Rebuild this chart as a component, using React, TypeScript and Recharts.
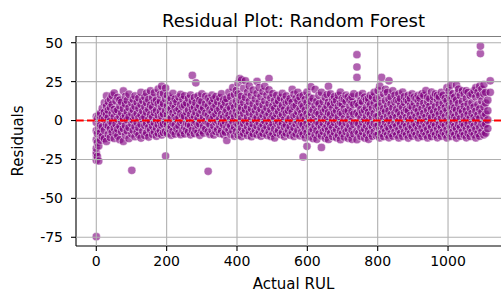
import React from "react";
import { ScatterChart, Scatter, XAxis, YAxis, Label } from "recharts";

// Each entry: [Actual RUL, residuals observed at that RUL]
const residualsRul0to199: [number, number[]][] = [
  [0, [-74.6, -25.5, -22.4, -20.6, -17.8, -12.3, -6.5, -1.2, 2.6]],
  [3, [-23.1, -14.2, -8.4, 1.3]],
  [7, [-26.0, -16.3, -5.1, 3.4]],
  [12, [-12.6, -7.8, -2.9, 4.7]],
  [17, [-10.3, -4.1, 1.6, 7.9]],
  [23, [-11.7, -6.2, 0.8, 5.3, 11.4]],
  [29, [-13.4, -2.7, 3.9, 9.2, 15.8]],
  [34, [-8.8, -3.5, 1.9, 6.6, 12.1]],
  [40, [-10.9, -5.4, -0.3, 8.4, 13.7]],
  [45, [-7.6, -1.7, 4.5, 10.2, 16.1]],
  [51, [-11.5, -4.9, 2.3, 7.1, 17.7]],
  [56, [-8.2, -2.4, 5.8, 12.6]],
  [61, [-9.9, -5.6, 0.9, 6.8, 14.9]],
  [67, [-12.3, -3.7, 2.7, 9.5, 13.2]],
  [72, [-7.1, -0.6, 4.9, 11.8]],
  [77, [-13.4, -5.2, 1.4, 7.7, 19.0]],
  [83, [-9.4, -3.3, 3.1, 10.6, 15.5]],
  [88, [-6.7, 0.4, 5.6, 12.9]],
  [93, [-11.6, -4.5, 2.2, 8.3, 16.9]],
  [101, [-32.0, -8.7, -2.1, 4.6, 11.2]],
  [105, [-6.3, 0.2, 6.9, 13.6]],
  [110, [-10.4, -3.9, 2.8, 9.1, 15.8]],
  [116, [-7.5, -1.3, 4.4, 11.7]],
  [121, [-9.2, -4.6, 1.7, 7.9, 14.4]],
  [127, [-11.3, -2.5, 3.6, 10.3, 18.1]],
  [132, [-6.8, 0.9, 6.1, 12.8]],
  [138, [-9.7, -3.2, 2.4, 8.8, 15.2]],
  [143, [-7.9, -1.9, 5.3, 11.4, 17.6]],
  [149, [-10.6, -4.4, 0.6, 7.2, 13.5]],
  [154, [-6.1, -0.8, 3.7, 9.9, 19.1]],
  [160, [-8.9, -3.6, 2.1, 8.5, 14.7]],
  [165, [-7.3, -1.4, 5.1, 11.9, 17.8]],
  [171, [-10.1, -4.8, 0.4, 6.4, 13.1]],
  [176, [-8.2, -2.6, 3.4, 10.7, 20.2]],
  [182, [-6.4, -0.5, 5.9, 12.4, 16.6]],
  [186, [-9.3, -3.1, 2.9, 8.6, 22.1]],
  [191, [-7.7, -2.2, 4.2, 10.8, 17.3]],
  [197, [-22.8, -6.9, -0.7, 6.3, 13.9, 20.8]],
];

const residualsRul200to399: [number, number[]][] = [
  [202, [-8.3, -2.8, 3.7, 9.4, 16.2]],
  [207, [-5.6, 0.5, 6.8, 12.7]],
  [213, [-9.4, -3.9, 1.8, 7.6, 14.3]],
  [218, [-6.9, -1.6, 4.9, 10.6, 17.4]],
  [224, [-8.7, -2.9, 2.5, 8.3, 13.8]],
  [229, [-5.3, 0.8, 6.1, 11.9]],
  [235, [-7.8, -3.4, 1.9, 7.4, 15.1]],
  [240, [-9.1, -1.2, 4.6, 10.3, 16.8]],
  [246, [-6.4, -0.3, 3.2, 8.9, 13.6]],
  [251, [-8.6, -4.1, 2.7, 9.8, 15.9]],
  [257, [-5.9, -1.8, 5.4, 11.2]],
  [262, [-7.3, -2.4, 1.1, 6.7, 14.2]],
  [268, [-9.2, -3.3, 3.8, 10.1, 16.4]],
  [273, [-6.2, 0.6, 7.3, 12.5, 29.0]],
  [279, [-8.4, -1.9, 2.9, 8.6, 14.8]],
  [283, [-5.7, -0.9, 5.2, 11.4, 24.2]],
  [289, [-7.6, -3.1, 1.6, 7.8, 15.7]],
  [294, [-9.5, -2.2, 4.3, 9.6, 13.1]],
  [300, [-6.6, 0.1, 6.4, 12.2, 17.1]],
  [305, [-8.1, -3.7, 2.3, 8.2]],
  [311, [-5.4, -0.4, 4.8, 10.9, 15.6]],
  [318, [-32.6, -7.2, -1.5, 3.4, 9.3, 14.4]],
  [323, [-8.9, -2.6, 1.4, 6.9, 12.8]],
  [329, [-6.3, 0.7, 5.7, 11.3, 16.3]],
  [334, [-9.3, -3.6, 2.6, 8.1, 13.9]],
  [340, [-7.1, -1.1, 4.1, 9.7, 15.4]],
  [345, [-5.8, -0.2, 6.2, 12.1]],
  [351, [-8.4, -3.2, 1.2, 7.5, 14.6]],
  [356, [-6.7, -1.5, 3.9, 10.4, 17.2]],
  [362, [-9.1, -2.7, 2.1, 8.7, 13.3]],
  [367, [-7.5, -0.8, 5.1, 11.6]],
  [371, [-12.8, -4.4, 1.8, 6.6, 14.1]],
  [377, [-6.1, -2.1, 3.3, 9.2, 18.1]],
  [382, [-8.8, -3.4, 0.9, 7.9, 15.3]],
  [388, [-6.5, -0.6, 4.7, 11.1, 21.2]],
  [393, [-10.1, -4.2, 2.4, 8.5, 16.7]],
  [398, [-7.2, -1.3, 5.5, 12.4, 19.3]],
];

const residualsRul400to599: [number, number[]][] = [
  [403, [-9.4, -2.6, 3.4, 9.8, 17.1, 24.1]],
  [408, [-7.1, -0.8, 6.3, 13.2, 27.0]],
  [413, [-10.3, -4.7, 1.5, 8.4, 15.6, 26.1]],
  [419, [-8.2, -1.9, 4.6, 11.5, 20.7]],
  [424, [-6.4, -0.2, 7.1, 14.8, 25.5]],
  [430, [-9.6, -3.8, 2.3, 9.1, 18.2]],
  [435, [-7.3, -1.6, 5.2, 12.3, 22.2]],
  [441, [-10.4, -4.9, 0.7, 7.6, 16.1]],
  [446, [-8.5, -2.3, 3.8, 10.7, 19.6]],
  [452, [-6.2, 0.4, 6.6, 13.9]],
  [457, [-9.2, -3.5, 2.1, 8.8, 17.4, 25.1]],
  [463, [-7.4, -1.4, 4.9, 11.6, 21.2]],
  [468, [-10.1, -4.6, 1.2, 7.3, 15.4]],
  [474, [-8.3, -2.7, 3.6, 9.9, 18.6]],
  [479, [-6.1, -0.3, 5.8, 12.7, 22.0]],
  [485, [-9.5, -3.9, 2.6, 8.2, 16.3]],
  [491, [-7.3, -1.2, 4.4, 10.9, 19.7, 27.0]],
  [496, [-10.2, -4.3, 0.9, 6.8, 14.6]],
  [502, [-8.4, -2.1, 3.1, 9.4, 17.3]],
  [507, [-11.2, -5.6, 1.3, 7.7, 12.9]],
  [513, [-7.9, -1.8, 4.2, 10.8, 16.2]],
  [518, [-6.3, -0.7, 5.9, 12.6]],
  [524, [-9.1, -3.4, 2.2, 8.1, 14.7]],
  [529, [-7.6, -1.5, 3.9, 9.7, 17.4]],
  [535, [-10.3, -4.2, 0.6, 6.9, 13.4]],
  [540, [-8.1, -2.8, 4.7, 11.3, 15.8]],
  [546, [-6.2, 0.3, 6.4, 12.2]],
  [551, [-9.4, -3.9, 1.4, 7.8, 14.1]],
  [557, [-7.3, -1.1, 5.3, 11.7, 20.0]],
  [562, [-10.2, -4.6, 2.7, 8.9, 16.9]],
  [568, [-8.6, -2.3, 3.5, 9.6, 14.3]],
  [573, [-6.4, -0.4, 5.6, 12.8, 18.1]],
  [579, [-9.8, -3.1, 1.9, 7.4, 15.2]],
  [584, [-7.2, -1.7, 4.8, 10.6]],
  [588, [-23.4, -8.9, -2.9, 2.6, 9.2, 16.1]],
  [594, [-11.1, -5.2, 0.8, 6.7, 13.5]],
];

const residualsRul600to799: [number, number[]][] = [
  [599, [-16.6, -7.8, -1.9, 4.3, 11.6, 18.2]],
  [605, [-10.4, -4.1, 2.2, 8.8, 15.1]],
  [610, [-7.3, -1.2, 5.1, 12.4, 21.7]],
  [616, [-11.6, -5.7, 0.4, 6.8, 14.2]],
  [622, [-9.2, -3.3, 3.4, 9.7, 20.0]],
  [627, [-12.1, -6.4, -0.6, 5.6, 12.3]],
  [633, [-8.5, -2.4, 4.2, 10.8, 16.2]],
  [640, [-17.3, -9.9, -4.3, 1.9, 8.2, 18.1]],
  [645, [-7.1, -1.6, 5.4, 12.1]],
  [651, [-11.4, -5.2, 0.7, 7.3, 14.9]],
  [656, [-9.1, -3.6, 2.8, 9.4, 16.7]],
  [660, [-12.2, -6.1, -0.9, 5.1, 11.8, 22.0]],
  [666, [-8.2, -2.7, 3.9, 10.2, 17.1]],
  [672, [-10.3, -4.4, 1.6, 7.9, 13.6]],
  [677, [-7.6, -1.3, 4.7, 11.4, 15.3]],
  [683, [-11.1, -5.8, 0.2, 6.4, 12.9]],
  [688, [-9.4, -3.2, 2.6, 9.1, 16.1]],
  [694, [-12.3, -6.6, -1.1, 5.3, 11.1, 18.2]],
  [699, [-8.4, -2.1, 4.3, 10.6, 14.1]],
  [705, [-10.6, -4.8, 1.3, 7.6, 13.7]],
  [710, [-7.2, -1.4, 5.7, 12.2, 16.3]],
  [716, [-11.4, -5.5, 0.5, 6.2, 15.1]],
  [721, [-9.1, -3.1, 3.2, 9.5, 13.3]],
  [727, [-12.1, -6.2, -0.4, 5.9, 11.7, 15.2]],
  [732, [-8.6, -2.5, 4.1, 10.3, 17.2]],
  [741, [-12.3, -6.8, -1.2, 4.9, 11.2, 27.7, 34.4, 42.3]],
  [746, [-8.1, -2.2, 3.6, 9.8, 16.1]],
  [752, [-10.2, -4.6, 1.4, 7.1, 12.8]],
  [757, [-7.4, -1.1, 5.2, 11.9, 17.3]],
  [763, [-11.3, -5.4, 0.3, 6.6, 15.1]],
  [768, [-9.2, -3.4, 2.9, 8.3, 13.4]],
  [774, [-12.1, -6.3, -0.7, 5.4, 12.1, 14.2]],
  [779, [-8.3, -2.6, 3.8, 10.1, 16.2]],
  [785, [-10.1, -4.2, 1.7, 7.8, 15.1]],
  [790, [-7.2, -1.8, 4.6, 11.3, 18.1]],
  [796, [-9.6, -3.7, 2.4, 8.6, 13.9]],
];

const residualsRul800to999: [number, number[]][] = [
  [801, [-9.1, -3.3, 2.8, 9.2, 19.2]],
  [806, [-11.2, -5.4, 0.6, 6.9, 14.8, 22.1]],
  [811, [-8.2, -2.1, 4.4, 11.1, 27.7]],
  [817, [-10.3, -4.7, 1.3, 7.6, 17.2]],
  [822, [-7.1, -1.2, 5.6, 12.7, 20.1]],
  [828, [-9.2, -3.8, 2.6, 9.4, 18.1]],
  [832, [-11.1, -5.1, 0.2, 6.3, 13.6, 25.5]],
  [838, [-8.3, -2.4, 3.9, 10.7, 15.2]],
  [843, [-10.1, -4.3, 1.8, 8.1, 19.1]],
  [849, [-7.2, -1.6, 4.9, 11.8, 16.3]],
  [854, [-9.3, -3.5, 2.2, 7.4, 13.1]],
  [860, [-11.2, -5.9, -0.4, 5.8, 12.6, 17.1]],
  [865, [-8.1, -2.3, 3.7, 9.9, 14.1]],
  [871, [-10.2, -4.1, 1.6, 8.4, 18.2]],
  [876, [-7.3, -1.4, 5.3, 11.6, 15.3]],
  [882, [-9.1, -3.7, 2.1, 7.2, 13.2]],
  [887, [-11.3, -5.6, 0.4, 6.3, 12.4, 16.2]],
  [893, [-8.2, -2.8, 3.3, 9.6, 14.2]],
  [898, [-10.1, -4.4, 1.1, 8.7, 17.1]],
  [904, [-7.1, -1.5, 5.2, 11.4, 15.1]],
  [909, [-9.2, -3.1, 2.6, 7.9, 14.1]],
  [915, [-11.1, -5.3, 0.3, 6.1, 12.8, 16.1]],
  [920, [-8.3, -2.2, 3.8, 10.2, 14.3]],
  [926, [-10.2, -4.9, 1.4, 7.6, 17.2]],
  [931, [-7.2, -1.1, 4.7, 11.3, 16.1]],
  [937, [-9.3, -3.6, 2.3, 8.6, 19.2]],
  [942, [-11.2, -5.7, -0.2, 6.5, 12.1, 15.1]],
  [948, [-8.1, -2.4, 3.5, 9.3, 14.1]],
  [953, [-10.3, -4.2, 1.9, 7.1, 18.3]],
  [959, [-7.1, -1.3, 5.4, 11.8, 15.2]],
  [964, [-9.2, -3.3, 2.7, 8.9, 17.1]],
  [970, [-11.1, -5.5, 0.5, 6.2, 13.4, 16.2]],
  [975, [-8.2, -2.6, 4.1, 10.4, 15.1]],
  [981, [-10.1, -4.4, 1.2, 7.7, 18.1]],
  [986, [-7.3, -1.7, 4.8, 11.1, 16.3]],
  [992, [-9.1, -3.2, 2.5, 8.3, 14.2]],
  [997, [-11.2, -5.8, 0.1, 6.6, 12.7, 21.1]],
];

const residualsRul1000up: [number, number[]][] = [
  [1003, [-8.1, -2.4, 3.6, 9.7, 16.2, 19.1]],
  [1008, [-10.2, -4.3, 1.8, 7.9, 14.1, 22.8]],
  [1014, [-7.3, -1.2, 5.1, 11.6, 17.2]],
  [1019, [-9.1, -3.7, 2.4, 8.2, 15.1]],
  [1024, [-11.3, -5.1, 0.7, 6.8, 13.2, 22.8]],
  [1030, [-8.2, -2.6, 4.3, 10.9, 18.2, 20.2]],
  [1035, [-10.1, -4.4, 1.2, 7.3, 16.1]],
  [1041, [-7.2, -1.5, 5.6, 12.2, 19.1]],
  [1046, [-9.3, -3.1, 2.8, 9.1, 17.1]],
  [1052, [-11.1, -5.4, 0.3, 6.4, 14.1, 19.1]],
  [1057, [-8.1, -2.3, 3.9, 10.6, 18.1]],
  [1063, [-10.2, -4.8, 1.5, 7.8, 16.2]],
  [1068, [-7.3, -1.1, 4.6, 11.4, 17.1]],
  [1074, [-9.1, -3.4, 2.2, 8.7, 19.2]],
  [1079, [-11.2, -5.6, 0.8, 6.1, 15.1, 21.1]],
  [1085, [-8.3, -2.1, 3.7, 10.3, 18.2]],
  [1090, [-10.1, -4.5, 1.3, 7.5, 16.1, 22.1]],
  [1092, [43.0, 47.8]],
  [1096, [-7.2, -1.9, 5.2, 12.6, 20.2]],
  [1102, [-9.2, -3.3, 2.6, 8.8, 17.1, 23.1]],
  [1107, [-8.1, -2.2, 4.1, 11.2, 18.1]],
  [1113, [-5.2, 0.4, 6.3, 13.1]],
  [1120, [18.1, 25.5]],
];

const xTicks = [0, 200, 400, 600, 800, 1000];
const yTicks = [-75, -50, -25, 0, 25, 50];
const xDomain: [number, number] = [-57.7, 1179];
const yDomain: [number, number] = [-80.6, 54.3];
const zeroLine = 0;

const allColumns = [
  ...residualsRul0to199,
  ...residualsRul200to399,
  ...residualsRul400to599,
  ...residualsRul600to799,
  ...residualsRul800to999,
  ...residualsRul1000up,
];
const points = allColumns.flatMap(([x, ys]) => ys.map((y) => ({ x, y })));

const verticalGrid = xTicks.map((t) => [
  { x: t, y: yDomain[0] },
  { x: t, y: yDomain[1] },
]);
const horizontalGrid = yTicks.map((t) => [
  { x: xDomain[0], y: t },
  { x: xDomain[1], y: t },
]);
const topSpine = [
  { x: xDomain[0], y: yDomain[1] },
  { x: xDomain[1], y: yDomain[1] },
];
const zeroRef = [
  { x: xDomain[0], y: zeroLine },
  { x: xDomain[1], y: zeroLine },
];

const FONT = "'DejaVu Sans', sans-serif";

const Dot = (props: any) => {
  const { cx, cy } = props;
  if (cx == null || cy == null) return <g />;
  return (
    <circle
      cx={cx}
      cy={cy}
      r={4.1}
      fill="#800080"
      fillOpacity={0.62}
      stroke="#ffffff"
      strokeOpacity={0.62}
      strokeWidth={0.8}
    />
  );
};

const NoDot = () => <g />;

export default function App() {
  return (
    <div
      style={{
        position: "absolute",
        left: 0,
        top: 0,
        width: 501,
        height: 293,
        overflow: "hidden",
        background: "#fff",
      }}
    >
      <div
        style={{
          position: "absolute",
          left: 0,
          width: 587,
          top: 10,
          textAlign: "center",
          fontFamily: FONT,
          fontSize: 18,
          lineHeight: "21px",
          color: "#000",
          whiteSpace: "nowrap",
        }}
      >
        Residual Plot: Random Forest
      </div>
      <ScatterChart
        width={530}
        height={293}
        margin={{ top: 36, right: 19, bottom: 0, left: 0 }}
        style={{ position: "absolute", left: 0, top: 0 }}
      >
        <XAxis
          dataKey="x"
          type="number"
          domain={xDomain}
          ticks={xTicks}
          allowDataOverflow
          height={47}
          tickSize={5}
          tickMargin={5}
          axisLine={{ stroke: "#000", strokeWidth: 1.1 }}
          tickLine={{ stroke: "#000", strokeWidth: 1.1 }}
          tick={{ fill: "#000", fontSize: 14, fontFamily: FONT }}
        >
          <Label
            value="Actual RUL"
            position="insideBottom"
            offset={4}
            style={{ fill: "#000", fontSize: 15, fontFamily: FONT }}
          />
        </XAxis>
        <YAxis
          dataKey="y"
          type="number"
          domain={yDomain}
          ticks={yTicks}
          allowDataOverflow
          width={76}
          tickSize={5}
          tickMargin={8}
          axisLine={{ stroke: "#000", strokeWidth: 1.1 }}
          tickLine={{ stroke: "#000", strokeWidth: 1.1 }}
          tick={{ fill: "#000", fontSize: 14, fontFamily: FONT }}
        >
          <Label
            content={(p: any) => {
              const vb = p.viewBox || { x: 0, y: 36, width: 76, height: 210 };
              const cy = vb.y + vb.height / 2;
              return (
                <text
                  x={18}
                  y={cy}
                  transform={`rotate(-90 18 ${cy})`}
                  textAnchor="middle"
                  dominantBaseline="central"
                  style={{ fill: "#000", fontSize: 15, fontFamily: FONT }}
                >
                  Residuals
                </text>
              );
            }}
          />
        </YAxis>
        <Scatter data={points} shape={Dot} isAnimationActive={false} />
        {verticalGrid.map((d, i) => (
          <Scatter
            key={`vg${i}`}
            data={d}
            shape={NoDot}
            line={{ stroke: "#b0b0b0", strokeWidth: 1.1 }}
            isAnimationActive={false}
          />
        ))}
        {horizontalGrid.map((d, i) => (
          <Scatter
            key={`hg${i}`}
            data={d}
            shape={NoDot}
            line={{ stroke: "#b0b0b0", strokeWidth: 1.1 }}
            isAnimationActive={false}
          />
        ))}
        <Scatter
          data={topSpine}
          shape={NoDot}
          line={{ stroke: "#000", strokeWidth: 1.1 }}
          isAnimationActive={false}
        />
        <Scatter
          data={zeroRef}
          shape={NoDot}
          line={{ stroke: "#ff0000", strokeWidth: 2, strokeDasharray: "7.7 3.3" }}
          isAnimationActive={false}
        />
      </ScatterChart>
    </div>
  );
}
